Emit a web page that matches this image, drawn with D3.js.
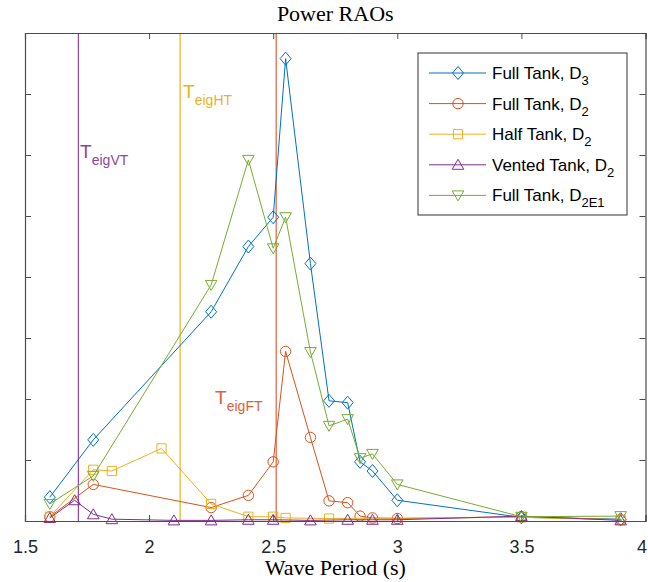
<!DOCTYPE html>
<html><head><meta charset="utf-8">
<script src="https://cdn.jsdelivr.net/npm/d3@7/dist/d3.min.js"></script>
<style>body{margin:0;background:#fff}svg{display:block}</style>
</head><body><svg id="c" width="648" height="582"></svg>
<script>
// ---- data ----
const periodsFull = [1.6, 1.775, 2.25, 2.4, 2.5, 2.55, 2.65, 2.725, 2.8, 2.85, 2.9, 3.0, 3.5, 3.9];
const fullTankD3 = [0.39, 1.33, 3.43, 4.50, 4.98, 7.58, 4.22, 1.97, 1.94, 0.97, 0.82, 0.34, 0.06, 0.03];
const fullTankD2 = [0.07, 0.60, 0.22, 0.42, 0.97, 2.78, 1.37, 0.33, 0.30, 0.08, 0.05, 0.04, 0.07, 0.02];
const fullTankD2E1 = [0.28, 0.74, 3.87, 5.92, 4.47, 4.98, 2.77, 1.56, 1.67, 1.03, 1.10, 0.60, 0.07, 0.08];
const periodsHalf = [1.6, 1.775, 1.85, 2.05, 2.25, 2.4, 2.5, 2.55, 2.725, 3.5, 3.9];
const halfTankD2 = [0.07, 0.84, 0.82, 1.19, 0.28, 0.07, 0.07, 0.05, 0.04, 0.06, 0.02];
const periodsVented = [1.6, 1.7, 1.775, 1.85, 2.1, 2.25, 2.4, 2.5, 2.65, 2.8, 2.9, 3.0, 3.5, 3.9];
const ventedTankD2 = [0.05, 0.34, 0.11, 0.03, 0.01, 0.01, 0.02, 0.02, 0.01, 0.02, 0.02, 0.02, 0.08, 0.01];

const seriesNames = ["Full Tank, D|3", "Full Tank, D|2", "Half Tank, D|2", "Vented Tank, D|2", "Full Tank, D|2E1"];
const eigPeriods = [1.715, 2.125, 2.512];
const eigSubs = ["eigVT", "eigHT", "eigFT"];
const eigLabelX = [1.722, 2.137, 2.266];
const eigLabelY = [5.95, 6.93, 1.92];
const xTicks = [1.5, 2, 2.5, 3, 3.5, 4];
const yTicks = [0, 1, 2, 3, 4, 5, 6, 7, 8];

// ---- styles ----
const colors = ["#0072BD", "#D95319", "#EDB120", "#7E2F8E", "#77AC30"];
const markers = ["diamond", "circle", "square", "up", "down"];
const eigColors = ["#8E45A0", "#EDB120", "#E0603A"];

const series = [
  {x: periodsFull, y: fullTankD3},
  {x: periodsFull, y: fullTankD2},
  {x: periodsHalf, y: halfTankD2},
  {x: periodsVented, y: ventedTankD2},
  {x: periodsFull, y: fullTankD2E1}
].map((s, i) => ({name: seriesNames[i], color: colors[i], marker: markers[i],
  pts: s.x.map((v, j) => [v, s.y[j]])}));

const W = 648, H = 582;
const m = {l: 25, r: 2.5, t: 33, b: 61};
const svg = d3.select("#c");
const x = d3.scaleLinear().domain([1.5, 4]).range([m.l, W - m.r]);
const y = d3.scaleLinear().domain([0, 8]).range([H - m.b, m.t]);

const sansFont = "'Liberation Sans', Arial, sans-serif";
const serifFont = "'Liberation Serif', 'DejaVu Serif', serif";

function markerPath(type) {
  switch (type) {
    case "diamond": return "M0,-6.5L5.5,0L0,6.5L-5.5,0Z";
    case "circle": return d3.symbol(d3.symbolCircle, Math.PI * 5.2 * 5.2)();
    case "square": return "M-4.6,-4.6H4.6V4.6H-4.6Z";
    case "up": return "M0,-5.5L5.8,4.5H-5.8Z";
    case "down": return "M0,5.5L5.8,-4.5H-5.8Z";
  }
}

// eigen-period vertical lines
const plotG = svg.append("g");
eigPeriods.forEach((p, i) => {
  plotG.append("line").attr("x1", x(p)).attr("x2", x(p))
    .attr("y1", y(0)).attr("y2", y(8))
    .attr("stroke", eigColors[i]).attr("stroke-width", 1.2);
  const t = plotG.append("text").attr("x", x(eigLabelX[i])).attr("y", y(eigLabelY[i]))
    .attr("fill", eigColors[i]).attr("font-family", sansFont).attr("font-size", 19);
  t.append("tspan").text("T");
  t.append("tspan").attr("dy", 7).attr("font-size", 14).text(eigSubs[i]);
});

// series lines + markers
const line = d3.line().x(d => x(d[0])).y(d => y(d[1]));
series.forEach(s => {
  const g = plotG.append("g");
  g.append("path").attr("d", line(s.pts)).attr("fill", "none")
    .attr("stroke", s.color).attr("stroke-width", 1);
  g.selectAll("path.mk").data(s.pts).enter().append("path").attr("class", "mk")
    .attr("d", markerPath(s.marker))
    .attr("transform", d => `translate(${x(d[0])},${y(d[1])})`)
    .attr("fill", "none").attr("stroke", s.color).attr("stroke-width", 1);
});

// axes (box on, ticks inward on all sides)
const axCol = "#4d4d4d";
const tickLen = 6;
const axB = d3.axisBottom(x).tickValues(xTicks).tickSize(-tickLen).tickPadding(19)
  .tickFormat(d3.format("~g"));
const gB = svg.append("g").attr("transform", `translate(0,${y(0)})`).call(axB);
const axT = d3.axisTop(x).tickValues(xTicks).tickSize(-tickLen).tickFormat("");
const gT = svg.append("g").attr("transform", `translate(0,${y(8)})`).call(axT);
const axL = d3.axisLeft(y).tickValues(yTicks).tickSize(-tickLen).tickFormat("");
const gL = svg.append("g").attr("transform", `translate(${x(1.5)},0)`).call(axL);
const axR = d3.axisRight(y).tickValues(yTicks).tickSize(-tickLen).tickFormat("");
const gR = svg.append("g").attr("transform", `translate(${x(4)},0)`).call(axR);
[gB, gT, gL, gR].forEach(g => {
  g.selectAll("path.domain").attr("stroke", axCol).attr("stroke-width", 1.2);
  g.selectAll(".tick line").attr("stroke", axCol).attr("stroke-width", 1);
});
gB.selectAll("text").attr("fill", "#262626").attr("font-family", sansFont).attr("font-size", 18)
  .attr("dx", d => d === 4 ? -4 : 0);

// title and x label
svg.append("text").attr("x", (x(1.5) + x(4)) / 2).attr("y", 21).attr("text-anchor", "middle")
  .attr("font-family", serifFont).attr("font-size", 22).attr("fill", "#000").text("Power RAOs");
svg.append("text").attr("x", (x(1.5) + x(4)) / 2).attr("y", 575).attr("text-anchor", "middle")
  .attr("font-family", serifFont).attr("font-size", 22).attr("fill", "#000").text("Wave Period (s)");

// legend
const lg = svg.append("g");
const lgX = 418, lgY = 53, lgW = 209, lgH = 162, rowH = 30.6, row0 = 73;
lg.append("rect").attr("x", lgX).attr("y", lgY).attr("width", lgW).attr("height", lgH)
  .attr("fill", "#fff").attr("stroke", "#333").attr("stroke-width", 1);
series.forEach((s, i) => {
  const cy = row0 + i * rowH;
  lg.append("line").attr("x1", 429).attr("x2", 486).attr("y1", cy).attr("y2", cy)
    .attr("stroke", s.color).attr("stroke-width", 1);
  lg.append("path").attr("d", markerPath(s.marker)).attr("transform", `translate(458,${cy})`)
    .attr("fill", "none").attr("stroke", s.color).attr("stroke-width", 1);
  const parts = s.name.split("|");
  const t = lg.append("text").attr("x", 492).attr("y", cy + 6)
    .attr("font-family", sansFont).attr("font-size", 17).attr("fill", "#000");
  t.append("tspan").text(parts[0]);
  t.append("tspan").attr("dy", 6).attr("font-size", 13).text(parts[1]);
});
</script></body></html>
